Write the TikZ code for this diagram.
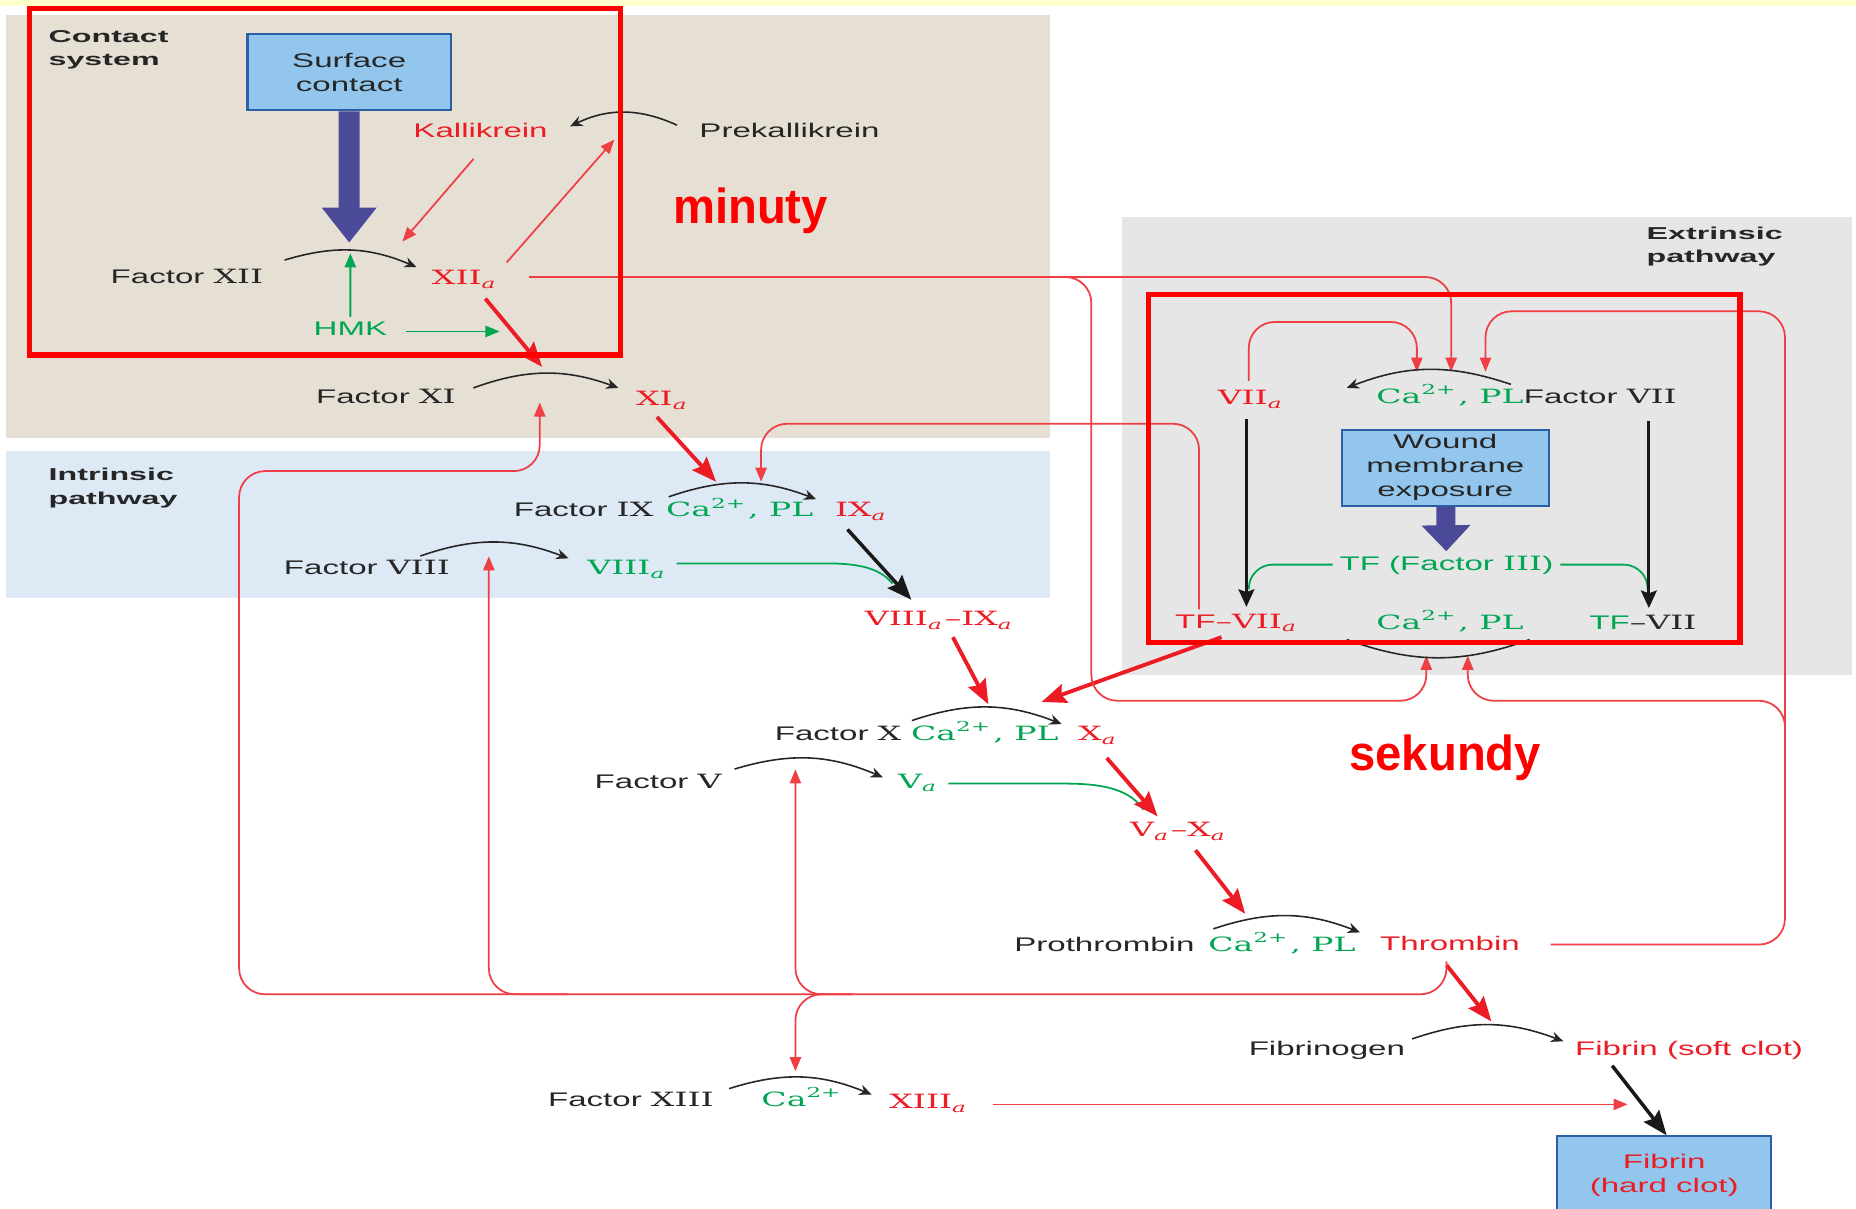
\documentclass[tikz,border=0pt]{standalone}
\usepackage{fontspec}
\setmainfont{DejaVu Serif}
\setsansfont{Liberation Sans}
\usetikzlibrary{arrows.meta}

\definecolor{bgyellow}{HTML}{FFFFCC}
\definecolor{bgbeige}{HTML}{E6E0D4}
\definecolor{bgblue}{HTML}{DEE9F6}
\definecolor{bggrey}{HTML}{E6E6E6}
\definecolor{cred}{HTML}{ED1C24}
\definecolor{cgreen}{HTML}{00A651}
\definecolor{cpurple}{HTML}{4B4A98}
\definecolor{boxfill}{HTML}{92C6EC}
\definecolor{boxline}{HTML}{2B5FA6}
\definecolor{hired}{HTML}{FF0000}

\newcommand{\rn}[1]{{\rmfamily #1}}
\newcommand{\sa}{\textsubscript{\itshape a}}
\newcommand{\fac}[1]{Factor \rn{#1}}
\newcommand{\capl}{\rn{Ca\textsuperscript{2+}, PL}}

\tikzset{
  lbl/.style={font=\sffamily\fontsize{5.6}{7}\selectfont, inner sep=1pt, xscale=1.68,
    text height=4.2pt, text depth=1pt},
  blk/.style={lbl, text=black!85},
  rd/.style={lbl, text=cred},
  gn/.style={lbl, text=cgreen},
  head/.style={font=\sffamily\bfseries\fontsize{4.9}{6.7}\selectfont, inner sep=0pt,
    xscale=1.87, align=left, text=black!85},
  tbox/.style={font=\sffamily\fontsize{5.6}{6.9}\selectfont, draw=boxline, fill=boxfill,
    line width=0.6pt, xscale=1.68, align=center, inner sep=0pt},
  bigword/.style={font=\sffamily\bfseries\fontsize{14}{16}\selectfont, text=hired, xscale=0.96},
  conv/.style={draw=black!85, line width=0.45pt, -{Stealth[length=3.5pt,width=3pt]}},
  fb/.style={draw=cred!85, line width=0.5pt, rounded corners=2.6mm},
  fbarrow/.style={fb, -{Triangle[length=4pt,width=3.2pt]}},
  gnline/.style={draw=cgreen, line width=0.5pt},
  gnarrow/.style={gnline, -{Triangle[length=4pt,width=3.2pt]}},
  thkred/.style={draw=cred, line width=1.1pt, -{Stealth[length=7pt,width=5.5pt,inset=1pt]}},
  thkblk/.style={draw=black!90, line width=1pt, -{Stealth[length=7pt,width=5.5pt,inset=1pt]}},
  midblk/.style={draw=black!90, line width=0.8pt, -{Stealth[length=5pt,width=4.5pt,inset=0.8pt]}},
  bigarrow/.style={draw=cpurple, line width=6pt, -{Triangle[length=10pt,width=15pt]}},
  bigarrowb/.style={draw=cpurple, line width=5.4pt, -{Triangle[length=7.4pt,width=13.5pt]}},
  hilite/.style={draw=hired, line width=1.5pt}
}

\begin{document}
\begin{tikzpicture}[x=0.11837mm, y=-0.11837mm]
\useasboundingbox (0,0) rectangle (1568,1021);
\fill[white] (0,0) rectangle (1568,1021);
\fill[bgyellow] (0,0) rectangle (1568,5);
\fill[bgbeige] (5,13) rectangle (887,370);
\fill[bgblue] (5,381) rectangle (887,505);
\fill[bggrey] (948,183) rectangle (1565,570);

% region labels
\node[head, anchor=north west] (contact) at (40,25) {Contact\\system};
\node[head, anchor=north west] (intr) at (40,395) {Intrinsic\\pathway};
\node[head, anchor=north west] (extr) at (1390,191) {Extrinsic\\pathway};

% contact system
\node[tbox, text=black!85, minimum width=12.1mm, minimum height=7.6mm] (surface) at (295,61) {Surface\\contact};
\node[rd] (kal) at (406,111) {Kallikrein};
\node[blk] (prekal) at (667,111) {Prekallikrein};
\node[blk] (f12) at (158,235) {\fac{XII}};
\node[rd] (f12a) at (393,236) {\rn{XII\sa}};
\node[gn] (hmk) at (296,279) {HMK};
\node[blk] (f11) at (326,336) {\fac{XI}};
\node[rd] (f11a) at (560,338) {\rn{XI\sa}};

% intrinsic pathway
\node[blk] (f9) at (493,432) {\fac{IX}};
\node[gn] (ca9) at (625,432) {\capl};
\node[rd] (f9a) at (728,432) {\rn{IX\sa}};
\node[blk] (f8) at (310,481) {\fac{VIII}};
\node[gn] (f8a) at (530,481) {\rn{VIII\sa}};
\node[rd] (f89) at (794,524) {\rn{VIII\sa--IX\sa}};

% common pathway
\node[blk] (f10) at (708,621) {\fac{X}};
\node[gn] (ca10) at (832,621) {\capl};
\node[rd] (f10a) at (928,621) {\rn{X\sa}};
\node[blk] (f5) at (556,661) {\fac{V}};
\node[gn] (f5a) at (776,661) {\rn{V\sa}};
\node[rd] (f5x) at (996,702) {\rn{V\sa--X\sa}};
\node[blk] (prot) at (933,799) {Prothrombin};
\node[gn] (ca2) at (1083,799) {\capl};
\node[rd] (thr) at (1225,798) {Thrombin};
\node[blk] (fgen) at (1121,887) {Fibrinogen};
\node[rd] (soft) at (1427,887) {Fibrin (soft clot)};
\node[tbox, text=cred, minimum width=12.75mm, minimum height=7.8mm] (hard) at (1406,993) {Fibrin\\(hard clot)};
\node[blk] (f13) at (533,930) {\fac{XIII}};
\node[gn] (ca13) at (678,930) {\rn{Ca\textsuperscript{2+}}};
\node[rd] (f13a) at (785,932) {\rn{XIII\sa}};

% extrinsic pathway
\node[rd] (f7a) at (1057,337) {\rn{VII\sa}};
\node[gn] (ca7) at (1225,336) {\capl};
\node[blk] (f7) at (1352,336) {\fac{VII}};
\node[tbox, text=black!85, minimum width=12.3mm, minimum height=7.6mm] (wound) at (1221,395) {Wound\\membrane\\exposure};
\node[gn] (tf) at (1222,477) {TF (Factor \rn{III})};
\node[rd] (tf7a) at (1045,526) {TF\rn{--VII\sa}};
\node[gn] (ca7b) at (1225,527) {\capl};
\node[blk] (tf7) at (1388,527) {{\color{cgreen}TF}\rn{--VII}};

% arrow ends on the arcs
\coordinate (top12) at (295,205);
\coordinate (bot12) at (296,214);
\coordinate (kal12) at (340,204);
\coordinate (kalarc) at (519,118);
\coordinate (hmkend) at (422,280);
\coordinate (in11) at (458,310);
\coordinate (up11) at (456,340);
\coordinate (in9a) at (605,407);
\coordinate (in9b) at (643,407);
\coordinate (in8) at (413,470);
\coordinate (g89) at (754,493);
\coordinate (in10a) at (835,595);
\coordinate (in10b) at (880,593);
\coordinate (in5) at (672,650);
\coordinate (g5) at (966,684);
\coordinate (in2) at (1052,772);
\coordinate (infb) at (1260,863);
\coordinate (in13) at (672,905);
\coordinate (x13end) at (1375,933);
\coordinate (b8) at (480,840);
\coordinate (b5) at (720,840);
\coordinate (thrv) at (1508,650);
\coordinate (in7a) at (1197,314);
\coordinate (in7b) at (1226,314);
\coordinate (in7c) at (1255,314);
\coordinate (in7d) at (1205,554);
\coordinate (in7e) at (1240,554);
\coordinate (g7a) at (1055,498);
\coordinate (g7b) at (1392,498);

% contact system
\draw[bigarrow] (surface) -- (top12);
\draw[conv] ([shift={(12,-4)}]f12.north east) to[bend left=20] ([shift={(-7,1)}]f12a.north west);
\draw[conv] ([shift={(-13,6)}]prekal.north west) to[bend right=25] ([shift={(13,7)}]kal.north east);
\draw[fbarrow] ([shift={(-6,12)}]kal.south) -- (kal12);
\draw[fbarrow] ([shift={(1,-3)}]f12a.north east) -- (kalarc);
\draw[gnarrow] (hmk) -- (bot12);
\draw[gnarrow] ([shift={(10,1)}]hmk.east) -- (hmkend);
\draw[thkred] ([shift={(17,5)}]f12a.south) -- (in11);
\draw[conv] ([shift={(9,3)}]f11.north east) to[bend left=20] ([shift={(-9,1)}]f11a.north west);

% intrinsic pathway
\draw[thkred] ([shift={(-5,3)}]f11a.south) -- (in9a);
\draw[conv] ([shift={(7,-1)}]f9.north east) to[bend left=20] ([shift={(-10,1)}]f9a.north west);
\draw[conv] ([shift={(-31,0)}]f8.north east) to[bend left=20] ([shift={(-10,2)}]f8a.north west);
\draw[thkblk] ([shift={(-12,4)}]f9a.south) -- ([shift={(-24,-6)}]f89.north);
\draw[gnline] ([shift={(2,-5)}]f8a.east) -- (700,476) .. controls (730,476) and (745,482) .. (g89);
\draw[thkred] ([shift={(11,3)}]f89.south) -- (in10a);
\draw[fbarrow] ([shift={(-32,0)}]tf7a.north) -- (1013,358) -- (643,358) -- (in9b);

% common pathway
\draw[thkred] ([shift={(-13,1)}]tf7a.south) -- (in10b);
\draw[conv] ([shift={(3,-1)}]f10.north east) to[bend left=20] ([shift={(-8,2)}]f10a.north west);
\draw[conv] ([shift={(5,0)}]f5.north east) to[bend left=20] ([shift={(-7,7)}]f5a.north west);
\draw[gnline] ([shift={(2,1)}]f5a.east) -- (900,662) .. controls (935,662) and (955,668) .. (g5);
\draw[thkred] ([shift={(7,8)}]f10a.south) -- ([shift={(-18,-1)}]f5x.north);
\draw[thkred] ([shift={(14,5)}]f5x.south) -- (in2);
\draw[conv] ([shift={(10,-3)}]prot.north east) to[bend left=20] ([shift={(-11,1)}]thr.north west);
\draw[thkred] ([shift={(-3,6)}]thr.south) -- (infb);
\draw[fbarrow] ([shift={(-3,3)}]thr.south) -- (1222,840) -- (202,840) -- (202,398) -- (456,398) -- (up11);
\draw[fbarrow] (b8) -- (413,840) -- (in8);
\draw[fbarrow] (b5) -- (672,840) -- (in5);
\draw[fbarrow] (b5) -- (672,840) -- (in13);
\draw[fbarrow] ([shift={(20,0)}]thr.east) -- (1508,798) -- (1508,263) -- (1255,263) -- (in7c);
\draw[fbarrow] (thrv) -- (1508,592) -- (1240,592) -- (in7e);
\draw[conv] ([shift={(0,2)}]fgen.north east) to[bend left=20] ([shift={(-4,4)}]soft.north west);
\draw[thkblk] ([shift={(-65,2)}]soft.south) -- ([shift={(2,0)}]hard.north);
\draw[conv] ([shift={(7,1)}]f13.north east) to[bend left=20] ([shift={(-9,4)}]f13a.north west);
\draw[fbarrow] ([shift={(14,1)}]f13a.east) -- (x13end);

% extrinsic pathway
\draw[fbarrow] ([shift={(20,-2)}]f12a.east) -- (1226,234) -- (in7b);
\draw[fbarrow] ([shift={(20,-2)}]f12a.east) -- (922,234) -- (922,592) -- (1205,592) -- (in7d);
\draw[fbarrow] ([shift={(-2,-4)}]f7a.north) -- (1055,272) -- (1197,272) -- (in7a);
\draw[conv] ([shift={(-5,0)}]f7.north west) to[bend right=20] ([shift={(-19,3)}]ca7.north west);
\draw[bigarrowb] (wound) -- (tf);
\draw[gnline, rounded corners=2.4mm] (tf.west) -- (1055,477) -- (g7a);
\draw[gnline, rounded corners=2.4mm] (tf.east) -- (1392,477) -- (g7b);
\draw[midblk] ([shift={(-4,6)}]f7a.south) -- ([shift={(8,-2)}]tf7a.north);
\draw[midblk] ([shift={(41,8)}]f7.south) -- ([shift={(5,-2)}]tf7.north);
\draw[draw=black!85, line width=0.45pt] ([shift={(-19,2)}]ca7b.south west) to[bend right=20] ([shift={(-1,2)}]ca7b.south east);

% time marks
\draw[hilite] (25,7) rectangle (524,300);
\draw[hilite] (970,249) rectangle (1470,543);
\node[bigword] (minuty) at (634,178) {minuty};
\node[bigword] (sekundy) at (1221,640) {sekundy};
\end{tikzpicture}
\end{document}
